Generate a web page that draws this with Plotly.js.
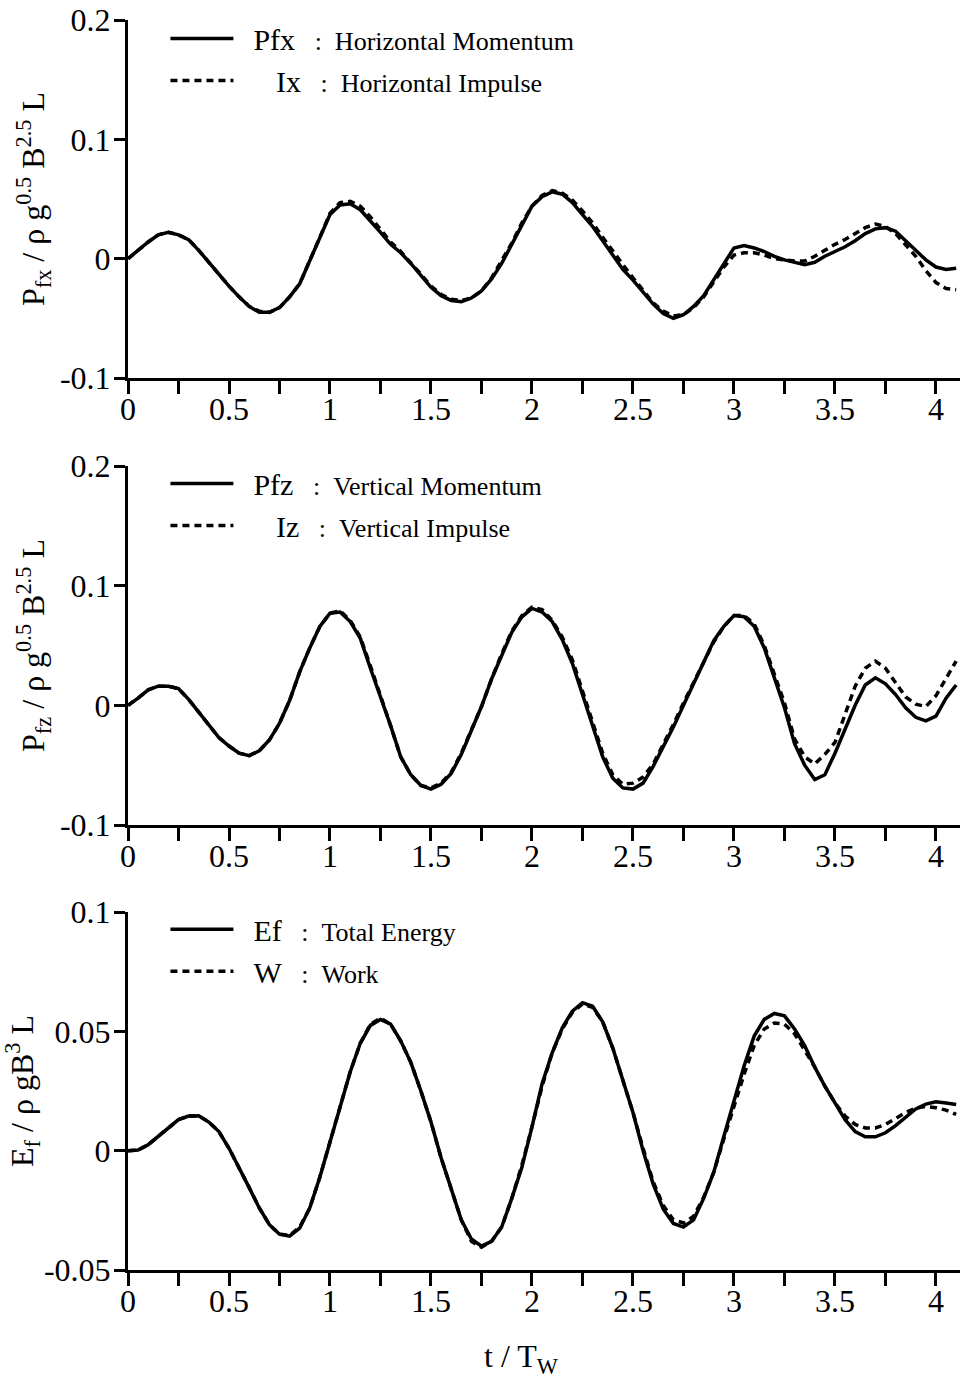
<!DOCTYPE html>
<html>
<head>
<meta charset="utf-8">
<script src="https://cdn.plot.ly/plotly-3.0.1.min.js"></script>
<style>html,body{margin:0;padding:0;background:#fff;}#chart{width:969px;height:1378px;}</style>
</head>
<body>
<div id="chart"></div>
<script>
// time axis t / Tw
var t = [0,0.05,0.1,0.15,0.2,0.25,0.3,0.35,0.4,0.45,0.5,0.55,0.6,0.65,0.7,0.75,0.8,0.85,0.9,0.95,
  1,1.05,1.1,1.15,1.2,1.25,1.3,1.35,1.4,1.45,1.5,1.55,1.6,1.65,1.7,1.75,1.8,1.85,1.9,1.95,
  2,2.05,2.1,2.15,2.2,2.25,2.3,2.35,2.4,2.45,2.5,2.55,2.6,2.65,2.7,2.75,2.8,2.85,2.9,2.95,
  3,3.05,3.1,3.15,3.2,3.25,3.3,3.35,3.4,3.45,3.5,3.55,3.6,3.65,3.7,3.75,3.8,3.85,3.9,3.95,
  4,4.05,4.1];

// Panel 1: horizontal momentum / impulse
var Pfx = [0,0.007,0.014,0.020,0.022,0.020,0.016,0.007,-0.003,-0.014,
  -0.023,-0.032,-0.040,-0.045,-0.045,-0.041,-0.032,-0.021,-0.002,0.018,
  0.037,0.045,0.046,0.041,0.032,0.022,0.012,0.005,-0.004,-0.014,
  -0.024,-0.031,-0.035,-0.036,-0.033,-0.027,-0.017,-0.004,0.012,0.029,
  0.044,0.052,0.056,0.054,0.047,0.037,0.027,0.015,0.003,-0.009,
  -0.018,-0.028,-0.038,-0.046,-0.050,-0.047,-0.040,-0.031,-0.018,-0.004,
  0.009,0.011,0.009,0.006,0.002,-0.001,-0.003,-0.005,-0.003,0.002,
  0.006,0.010,0.015,0.021,0.025,0.026,0.023,0.015,0.007,-0.001,
  -0.007,-0.009,-0.008];
var Ix = [0,0.007,0.014,0.020,0.022,0.020,0.016,0.007,-0.003,-0.014,
  -0.023,-0.032,-0.040,-0.044,-0.045,-0.041,-0.032,-0.021,-0.002,0.018,
  0.038,0.047,0.048,0.044,0.035,0.025,0.014,0.006,-0.003,-0.013,
  -0.023,-0.030,-0.034,-0.035,-0.033,-0.027,-0.016,-0.002,0.013,0.030,
  0.044,0.053,0.057,0.055,0.049,0.040,0.030,0.018,0.006,-0.005,
  -0.016,-0.027,-0.037,-0.044,-0.048,-0.047,-0.041,-0.032,-0.020,-0.007,
  0.003,0.005,0.005,0.003,0.000,-0.001,-0.002,-0.002,0.002,0.007,
  0.012,0.016,0.021,0.026,0.029,0.027,0.021,0.012,0.002,-0.010,
  -0.020,-0.025,-0.026];

// Panel 2: vertical momentum / impulse
var Pfz = [0,0.006,0.013,0.016,0.016,0.014,0.005,-0.006,-0.017,-0.027,
  -0.034,-0.040,-0.042,-0.038,-0.029,-0.015,0.004,0.028,0.048,0.066,
  0.077,0.078,0.070,0.056,0.031,0.008,-0.017,-0.043,-0.058,-0.067,
  -0.070,-0.066,-0.057,-0.041,-0.021,-0.001,0.022,0.042,0.061,0.074,
  0.081,0.078,0.070,0.055,0.035,0.009,-0.018,-0.043,-0.061,-0.069,
  -0.070,-0.065,-0.051,-0.035,-0.018,0.000,0.018,0.037,0.054,0.066,
  0.075,0.074,0.066,0.048,0.024,-0.002,-0.032,-0.050,-0.062,-0.058,
  -0.040,-0.020,0.000,0.017,0.023,0.018,0.009,-0.002,-0.010,-0.013,
  -0.009,0.006,0.017];
var Iz = [0,0.006,0.013,0.016,0.016,0.014,0.005,-0.006,-0.017,-0.027,
  -0.034,-0.040,-0.042,-0.038,-0.029,-0.015,0.004,0.028,0.048,0.066,
  0.077,0.079,0.071,0.057,0.033,0.009,-0.017,-0.043,-0.058,-0.067,
  -0.069,-0.065,-0.056,-0.040,-0.021,-0.001,0.022,0.043,0.062,0.075,
  0.082,0.080,0.071,0.057,0.038,0.012,-0.015,-0.040,-0.058,-0.066,
  -0.065,-0.060,-0.049,-0.033,-0.016,0.002,0.019,0.037,0.053,0.066,
  0.075,0.075,0.068,0.050,0.027,0.002,-0.028,-0.043,-0.049,-0.041,
  -0.031,-0.007,0.016,0.031,0.037,0.031,0.019,0.007,0.001,-0.001,
  0.008,0.022,0.037];

// Panel 3: total energy / work
var Ef = [0,0.0003,0.0025,0.006,0.0095,0.013,0.0145,0.0146,0.012,0.008,
  0.001,-0.007,-0.0155,-0.024,-0.031,-0.035,-0.0358,-0.0325,-0.024,-0.011,
  0.0035,0.019,0.033,0.045,0.0525,0.055,0.053,0.046,0.037,0.025,
  0.012,-0.003,-0.016,-0.029,-0.037,-0.040,-0.038,-0.032,-0.020,-0.007,
  0.010,0.028,0.041,0.0515,0.0585,0.062,0.0605,0.054,0.043,0.030,
  0.016,0.000,-0.014,-0.0245,-0.0305,-0.032,-0.029,-0.020,-0.009,0.006,
  0.021,0.0355,0.048,0.055,0.0575,0.0565,0.051,0.044,0.035,0.027,
  0.020,0.013,0.008,0.0058,0.0058,0.0075,0.0105,0.014,0.0175,0.0195,
  0.0205,0.020,0.0193];
var W = [0,0.0003,0.0025,0.006,0.0095,0.013,0.0145,0.0146,0.012,0.008,
  0.001,-0.007,-0.0155,-0.024,-0.031,-0.035,-0.0355,-0.032,-0.024,-0.011,
  0.0035,0.019,0.033,0.045,0.053,0.0555,0.053,0.046,0.037,0.025,
  0.012,-0.003,-0.016,-0.029,-0.038,-0.0405,-0.038,-0.032,-0.020,-0.006,
  0.010,0.027,0.041,0.051,0.058,0.0615,0.060,0.054,0.043,0.030,
  0.016,0.001,-0.013,-0.023,-0.029,-0.0303,-0.0275,-0.0195,-0.009,0.005,
  0.019,0.032,0.044,0.051,0.0535,0.053,0.049,0.042,0.035,0.027,
  0.020,0.0145,0.011,0.0095,0.0095,0.011,0.0135,0.016,0.0178,0.0185,
  0.018,0.017,0.0152];

// tick labels
var yTicks12 = [-0.1, 0, 0.1, 0.2];
var yText12 = ['-0.1', '0', '0.1', '0.2'];
var yTicks3 = [-0.05, 0, 0.05, 0.1];
var yText3 = ['-0.05', '0', '0.05', '0.1'];
var xTicks = [0, 0.5, 1, 1.5, 2, 2.5, 3, 3.5, 4];
var xText = ['0', '0.5', '1', '1.5', '2', '2.5', '3', '3.5', '4'];
var xTitle = 't / T<sub>W</sub>';

// legend labels
var NB = '\u00A0';
function lbl(sym, pad, desc) {
  return NB + NB + pad + sym + '<span style="font-size:26px">' + NB+NB+NB + ':' + NB+NB + desc + '</span>';
}
var names = {
  Pfx: lbl('Pfx', '', 'Horizontal Momentum'),
  Ix: lbl('Ix', NB+NB+NB, 'Horizontal Impulse'),
  Pfz: lbl('Pfz', '', 'Vertical Momentum'),
  Iz: lbl('Iz', NB+NB+NB, 'Vertical Impulse'),
  Ef: lbl('Ef', '', 'Total Energy'),
  W: lbl('W', '', 'Work')
};

var FONT = 'Liberation Serif, Times New Roman, serif';
var solid = {color: '#000', width: 3.5};
var dashed = {color: '#000', width: 3.5, dash: '7px,5px'};

var traces = [
  {x: t, y: Pfx, xaxis: 'x', yaxis: 'y', mode: 'lines', line: solid, name: names.Pfx, legend: 'legend', legendgroup: 'a'},
  {x: t, y: Ix, xaxis: 'x', yaxis: 'y', mode: 'lines', line: dashed, name: names.Ix, legend: 'legend', legendgroup: 'b'},
  {x: t, y: Pfz, xaxis: 'x2', yaxis: 'y2', mode: 'lines', line: solid, name: names.Pfz, legend: 'legend2', legendgroup: 'c'},
  {x: t, y: Iz, xaxis: 'x2', yaxis: 'y2', mode: 'lines', line: dashed, name: names.Iz, legend: 'legend2', legendgroup: 'd'},
  {x: t, y: Ef, xaxis: 'x3', yaxis: 'y3', mode: 'lines', line: solid, name: names.Ef, legend: 'legend3', legendgroup: 'e'},
  {x: t, y: W, xaxis: 'x3', yaxis: 'y3', mode: 'lines', line: dashed, name: names.W, legend: 'legend3', legendgroup: 'f'}
];

var XR = [0, 4.119];
var TF = {family: FONT, size: 32, color: '#000'};
function xa(anchor) {
  return {
    anchor: anchor, range: XR, showline: true, linecolor: '#000', linewidth: 3,
    ticks: 'outside', ticklen: 13, tickwidth: 3, tickcolor: '#000',
    tickvals: xTicks, ticktext: xText, showgrid: false, zeroline: false,
    minor: {tickvals: [0.25, 0.75, 1.25, 1.75, 2.25, 2.75, 3.25, 3.75], ticks: 'outside', ticklen: 13, tickwidth: 3, tickcolor: '#000'},
    tickfont: TF, ticklabelstandoff: -12, fixedrange: true
  };
}
function ya(anchor, dom, range, tv, tt, title) {
  return {
    anchor: anchor, domain: dom, range: range, showline: true, linecolor: '#000', linewidth: 3,
    ticks: 'outside', ticklen: 11, tickwidth: 3, tickcolor: '#000',
    tickvals: tv, ticktext: tt, showgrid: false, zeroline: false,
    tickfont: TF, ticklabelstandoff: -3,
    title: {text: title, font: {family: FONT, size: 32, color: '#000'}, standoff: 6}
  };
}
function yr(overlay, anchor, range, tv) {
  return {
    overlaying: overlay, anchor: anchor, side: 'right', range: range, showline: true,
    linecolor: '#000', linewidth: 3, ticks: 'outside', ticklen: 10, tickwidth: 3, tickcolor: '#000',
    tickvals: tv, showticklabels: false, showgrid: false, zeroline: false
  };
}
function lg(y) {
  return {x: 0.045, y: y, xanchor: 'left', yanchor: 'top', bgcolor: 'rgba(0,0,0,0)',
    font: {family: FONT, size: 30, color: '#000'}, tracegroupgap: 0, itemwidth: 63, traceorder: 'grouped'};
}

var R12 = [-0.1, 0.2], R3 = [-0.05, 0.1];
var layout = {
  width: 969, height: 1378,
  margin: {l: 128, r: 9, t: 20, b: 108},
  paper_bgcolor: '#fff', plot_bgcolor: '#fff',
  font: {family: FONT, color: '#000'},
  showlegend: true,
  xaxis: xa('y'),
  xaxis2: xa('y2'),
  xaxis3: xa('y3'),
  yaxis: ya('x', [0.7136, 1.0], R12, yTicks12, yText12, 'P<sub>fx</sub> / ρ g<sup>0.5</sup> B<sup>2.5</sup> L'),
  yaxis2: ya('x2', [0.356, 0.6432], R12, yTicks12, yText12, 'P<sub>fz</sub> / ρ g<sup>0.5</sup> B<sup>2.5</sup> L'),
  yaxis3: ya('x3', [0, 0.2864], R3, yTicks3, yText3, 'E<sub>f</sub> / ρ gB<sup>3</sup> L'),
  yaxis4: yr('y', 'x', R12, yTicks12),
  yaxis5: yr('y2', 'x2', R12, yTicks12),
  yaxis6: yr('y3', 'x3', R3, yTicks3),
  legend: lg(1.006),
  legend2: lg(0.65),
  legend3: lg(0.2935),
  annotations: [{
    text: xTitle, xref: 'paper', yref: 'paper', x: 0.4724, y: -0.0704,
    xanchor: 'center', yanchor: 'middle', showarrow: false,
    font: {family: FONT, size: 32, color: '#000'}
  }]
};

Plotly.newPlot('chart', traces, layout, {staticPlot: true, displayModeBar: false});
</script>
</body>
</html>
